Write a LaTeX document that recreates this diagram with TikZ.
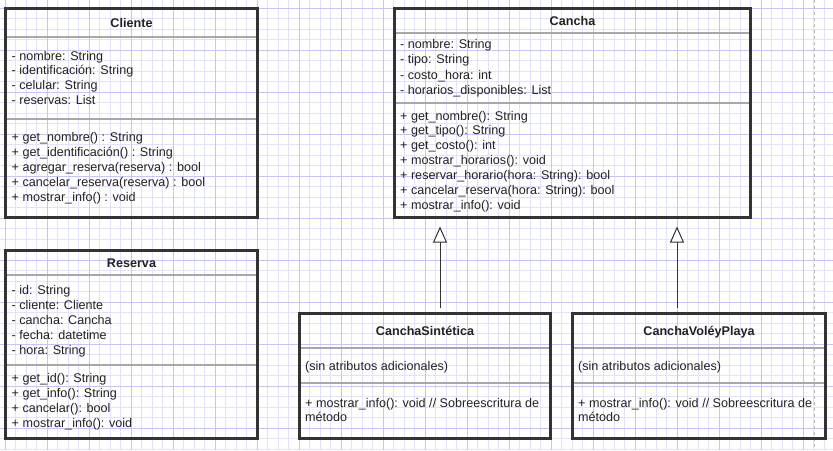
\documentclass[tikz,border=0pt]{standalone}
\usepackage{fontspec}
\setmainfont{Liberation Sans}
\usetikzlibrary{arrows.meta}
\definecolor{gridminor}{RGB}{226,226,250}
\definecolor{gridmajor}{RGB}{198,198,246}
\definecolor{boxline}{RGB}{51,51,51}
\definecolor{sepline}{RGB}{168,168,168}
\definecolor{txtcol}{RGB}{34,34,34}
\definecolor{pagebreak}{RGB}{185,185,185}
\newcommand\umllines[5]{\foreach \t [count=\i from 0] in {#5} {\node[txt] (#1\i) at ({#2},{#3+\i*#4}) {\t};}}
\begin{document}
\begin{tikzpicture}[x=1pt,y=-1pt,
  box/.style={draw=boxline, line width=2.6pt, rectangle, inner sep=0pt, outer sep=0pt, anchor=north west},
  sep/.style={draw=sepline, line width=1.8pt, shorten <=1.3pt, shorten >=1.3pt},
  txt/.style={anchor=base west, inner sep=0pt, text=txtcol, font=\fontsize{12.6}{15}\selectfont},
  ttl/.style={anchor=base, inner sep=0pt, text=txtcol, font=\fontsize{12.6}{15}\selectfont\bfseries},
  gen/.style={draw=boxline, line width=1pt, -{Triangle[open, length=16pt, width=14pt, fill=white]}}]
\fill[white] (0,0) rectangle (833,450);
\useasboundingbox (0,0) rectangle (833,450);
% grid
\foreach \k in {-1,...,79} \draw[gridminor, line width=0.8pt] ({5.3+10.5*\k},0) -- ({5.3+10.5*\k},450);
\foreach \k in {-1,...,42} \draw[gridminor, line width=0.8pt] (0,{8.3+10.5*\k}) -- (833,{8.3+10.5*\k});
\foreach \k in {0,...,19} \draw[gridmajor, line width=1pt] ({5.3+42*\k},0) -- ({5.3+42*\k},450);
\foreach \k in {0,...,10} \draw[gridmajor, line width=1pt] (0,{8.3+42*\k}) -- (833,{8.3+42*\k});
\draw[pagebreak, dash pattern=on 3pt off 3pt, line width=1pt] (814.5,0) -- (814.5,450);
% Cliente
\node[box, minimum width=252pt, minimum height=209pt] (cliente) at (5.5,8.5) {};
\draw[sep] (cliente.west |- 0,37) -- (cliente.east |- 0,37);
\draw[sep] (cliente.west |- 0,119) -- (cliente.east |- 0,119);
\node[ttl] (cliente-t) at (131.5,27) {Cliente};
\umllines{cliente-a}{11.5}{60}{14.7}{- nombre: String, - identificación: String, - celular: String, - reservas: List}
\umllines{cliente-m}{11.5}{141.6}{15}{+ get\_nombre() : String, + get\_identificación() : String, + agregar\_reserva(reserva) : bool, + cancelar\_reserva(reserva) : bool, + mostrar\_info() : void}
% Cancha
\node[box, minimum width=356pt, minimum height=209pt] (cancha) at (394.5,8.5) {};
\draw[sep] (cancha.west |- 0,33) -- (cancha.east |- 0,33);
\draw[sep] (cancha.west |- 0,103) -- (cancha.east |- 0,103);
\node[ttl] (cancha-t) at (572.5,25) {Cancha};
\umllines{cancha-a}{400}{48.6}{15.2}{- nombre: String, - tipo: String, - costo\_hora: int, - horarios\_disponibles: List}
\umllines{cancha-m}{400}{120}{14.9}{+ get\_nombre(): String, + get\_tipo(): String, + get\_costo(): int, + mostrar\_horarios(): void, + reservar\_horario(hora: String): bool, + cancelar\_reserva(hora: String): bool, + mostrar\_info(): void}
% Reserva
\node[box, minimum width=252pt, minimum height=188pt] (reserva) at (5.5,250.5) {};
\draw[sep] (reserva.west |- 0,275) -- (reserva.east |- 0,275);
\draw[sep] (reserva.west |- 0,365) -- (reserva.east |- 0,365);
\node[ttl] (reserva-t) at (131.5,267.5) {Reserva};
\umllines{reserva-a}{11.5}{294.3}{15}{- id: String, - cliente: Cliente, - cancha: Cancha, - fecha: datetime, - hora: String}
\umllines{reserva-m}{11.5}{382.6}{15}{+ get\_id(): String, + get\_info(): String, + cancelar(): bool, + mostrar\_info(): void}
% CanchaSintetica
\node[box, minimum width=251pt, minimum height=125pt] (cs) at (299.5,313.5) {};
\draw[sep] (cs.west |- 0,348) -- (cs.east |- 0,348);
\draw[sep] (cs.west |- 0,383) -- (cs.east |- 0,383);
\node[ttl] (cs-t) at (425,335) {CanchaSintética};
\umllines{cs-a}{305}{370}{15}{(sin atributos adicionales)}
\umllines{cs-m}{305}{407}{14.6}{+ mostrar\_info(): void // Sobreescritura de, método}
% CanchaVoleyPlaya
\node[box, minimum width=253pt, minimum height=125pt] (cv) at (572.5,313.5) {};
\draw[sep] (cv.west |- 0,348) -- (cv.east |- 0,348);
\draw[sep] (cv.west |- 0,383) -- (cv.east |- 0,383);
\node[ttl] (cv-t) at (699,335) {CanchaVoléyPlaya};
\umllines{cv-a}{578}{370}{15}{(sin atributos adicionales)}
\umllines{cv-m}{578}{407}{14.6}{+ mostrar\_info(): void // Sobreescritura de, método}
% generalization arrows
\draw[gen] ([xshift=15pt,yshift=6pt]cs.north) -- ([xshift=-132.5pt,yshift=-9pt]cancha.south);
\draw[gen] ([xshift=-22pt,yshift=6pt]cv.north) -- ([xshift=104.5pt,yshift=-9pt]cancha.south);
\end{tikzpicture}
\end{document}
